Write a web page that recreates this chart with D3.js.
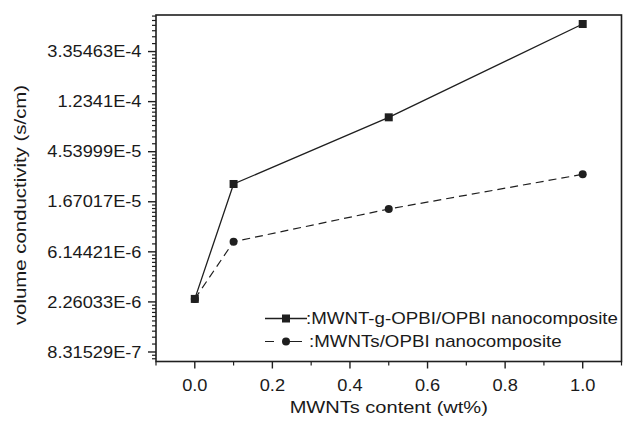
<!DOCTYPE html>
<html>
<head>
<meta charset="utf-8">
<script src="https://cdn.jsdelivr.net/npm/d3@7"></script>
<style>
  html, body { margin: 0; padding: 0; background: #fff; }
  svg text { font-family: "Liberation Sans", Arial, Helvetica, sans-serif; fill: #1a1a1a; }
</style>
</head>
<body>
<svg id="chart" width="623" height="422"></svg>
<script>
// ---- data ----
const xValues = [0.0, 0.1, 0.5, 1.0];
const graftedValues = [2.40e-6, 2.382e-5, 9.02e-5, 5.815e-4];   // MWNT-g-OPBI/OPBI
const pristineValues = [2.40e-6, 7.52e-6, 1.445e-5, 2.889e-5];  // MWNTs/OPBI
const seriesNames = [":MWNT-g-OPBI/OPBI nanocomposite", ":MWNTs/OPBI nanocomposite"];
const xTickValues = [0.0, 0.2, 0.4, 0.6, 0.8, 1.0];
const xTickLabels = ["0.0", "0.2", "0.4", "0.6", "0.8", "1.0"];
const yTickExponents = [-14, -13, -12, -11, -10, -9, -8];
const yTickLabels = ["8.31529E-7", "2.26033E-6", "6.14421E-6", "1.67017E-5", "4.53999E-5", "1.2341E-4", "3.35463E-4"];
const xTitle = "MWNTs content (wt%)";
const yTitle = "volume conductivity (s/cm)";

// ---- layout ----
const L = 156, R = 621.5, T = 15, B = 361.5;
const ink = "#1f1f1f";

const svg = d3.select("#chart");
const x = d3.scaleLinear().domain([-0.1, 1.1]).range([L, R]);
const y = d3.scaleLog().base(Math.E).domain([Math.exp(-14.19), Math.exp(-7.27)]).range([B, T]);

function stretchedText(g, px, py, str, size, sx, anchor, rotate) {
  return g.append("text")
    .attr("transform", `translate(${px},${py})` + (rotate ? ` rotate(${rotate})` : "") + ` scale(${sx},1)`)
    .attr("font-size", size)
    .attr("text-anchor", anchor)
    .text(str);
}

// ---- y axis ticks ----
const gy = svg.append("g");
const yMinor = [];
for (let k = -15; k <= -8; k++) {
  const lo = Math.exp(k), hi = Math.exp(k + 1);
  for (let j = 1; j <= 9; j++) {
    const v = lo + j * (hi - lo) / 10;
    if (v >= y.domain()[0] && v <= y.domain()[1]) yMinor.push(v);
  }
}
gy.selectAll("line.minor").data(yMinor).enter().append("line")
  .attr("x1", L - 4).attr("x2", L).attr("y1", d => y(d)).attr("y2", d => y(d))
  .attr("stroke", ink).attr("stroke-width", 1.2);
const yMajor = yTickExponents.map(e => Math.exp(e));
gy.selectAll("line.major").data(yMajor).enter().append("line")
  .attr("x1", L - 8).attr("x2", L).attr("y1", d => y(d)).attr("y2", d => y(d))
  .attr("stroke", ink).attr("stroke-width", 1.4);
yMajor.forEach((v, i) => {
  stretchedText(gy, 141.5, y(v) + 5.7, yTickLabels[i], 16, 1.14, "end");
});

// ---- x axis ticks ----
const gx = svg.append("g");
const xMinor = [-0.1, 0.1, 0.3, 0.5, 0.7, 0.9, 1.1];
gx.selectAll("line.minor").data(xMinor).enter().append("line")
  .attr("x1", d => x(d)).attr("x2", d => x(d)).attr("y1", B).attr("y2", B + 4)
  .attr("stroke", ink).attr("stroke-width", 1.2);
gx.selectAll("line.major").data(xTickValues).enter().append("line")
  .attr("x1", d => x(d)).attr("x2", d => x(d)).attr("y1", B).attr("y2", B + 7)
  .attr("stroke", ink).attr("stroke-width", 1.4);
xTickValues.forEach((v, i) => {
  stretchedText(gx, x(v), 390.5, xTickLabels[i], 16, 1.14, "middle");
});

// ---- frame ----
svg.append("rect").attr("x", L).attr("y", T).attr("width", R - L).attr("height", B - T)
  .attr("fill", "none").attr("stroke", ink).attr("stroke-width", 1.6);

// ---- titles ----
stretchedText(svg, (L + R) / 2, 412.5, xTitle, 17, 1.18, "middle");
stretchedText(svg, 25.5, 205, yTitle, 17, 1.2, "middle", -90);

// ---- series ----
const line = d3.line().x(d => x(d[0])).y(d => y(d[1]));
const s1 = xValues.map((v, i) => [v, graftedValues[i]]);
const s2 = xValues.map((v, i) => [v, pristineValues[i]]);

svg.append("path").datum(s2).attr("d", line).attr("fill", "none")
  .attr("stroke", ink).attr("stroke-width", 1.2).attr("stroke-dasharray", "8,5");
svg.selectAll("circle.s2").data(s2).enter().append("circle")
  .attr("cx", d => x(d[0])).attr("cy", d => y(d[1])).attr("r", 4).attr("fill", ink);

svg.append("path").datum(s1).attr("d", line).attr("fill", "none")
  .attr("stroke", ink).attr("stroke-width", 1.3);
svg.selectAll("rect.s1").data(s1).enter().append("rect")
  .attr("x", d => x(d[0]) - 4).attr("y", d => y(d[1]) - 4).attr("width", 8).attr("height", 8).attr("fill", ink);

// ---- legend ----
const lg = svg.append("g");
const r1 = 318.5, r2 = 341.5;
lg.append("line").attr("x1", 265).attr("x2", 307).attr("y1", r1).attr("y2", r1)
  .attr("stroke", ink).attr("stroke-width", 1.3);
lg.append("rect").attr("x", 282).attr("y", r1 - 4).attr("width", 8).attr("height", 8).attr("fill", ink);
lg.append("line").attr("x1", 265).attr("x2", 305).attr("y1", r2).attr("y2", r2)
  .attr("stroke", ink).attr("stroke-width", 1.2).attr("stroke-dasharray", "9,10,0,0,9,0");
lg.append("circle").attr("cx", 286).attr("cy", r2).attr("r", 4).attr("fill", ink);
stretchedText(lg, 306, r1 + 5.7, seriesNames[0], 16, 1.17, "start");
stretchedText(lg, 309, r2 + 5.7, seriesNames[1], 16, 1.17, "start");
</script>
</body>
</html>
